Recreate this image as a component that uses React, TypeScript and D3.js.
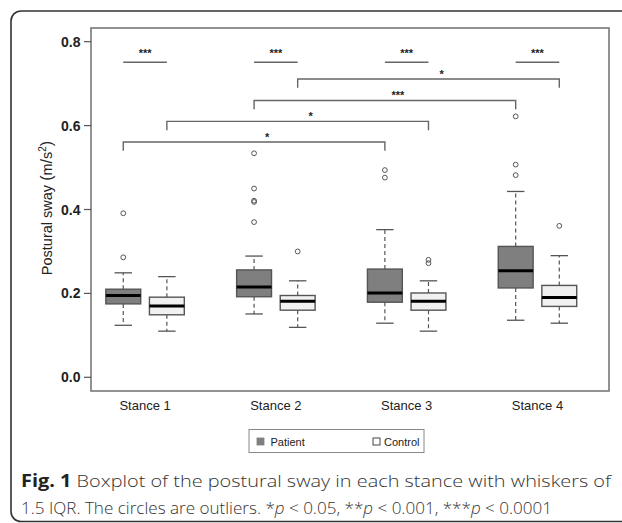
import React from "react";
import * as d3 from "d3";

// ---------- data ----------
const stances = ["Stance 1", "Stance 2", "Stance 3", "Stance 4"];
const groups = ["Patient", "Control"];
// [lower whisker, Q1, median, Q3, upper whisker]
const patientStats = [
  [0.124, 0.175, 0.195, 0.210, 0.249],
  [0.151, 0.192, 0.215, 0.256, 0.289],
  [0.129, 0.179, 0.201, 0.258, 0.352],
  [0.136, 0.213, 0.254, 0.312, 0.443],
];
const controlStats = [
  [0.110, 0.149, 0.170, 0.191, 0.240],
  [0.119, 0.160, 0.181, 0.195, 0.230],
  [0.110, 0.160, 0.181, 0.201, 0.230],
  [0.129, 0.169, 0.190, 0.219, 0.290],
];
const patientOutliers = [
  [0.391, 0.286],
  [0.534, 0.450, 0.421, 0.418, 0.370],
  [0.494, 0.476],
  [0.622, 0.507, 0.482],
];
const controlOutliers = [[], [0.300], [0.280, 0.272], [0.361]];
const yTicks = [0.0, 0.2, 0.4, 0.6, 0.8];
// within-stance comparisons (patient vs control)
const withinLabels = ["***", "***", "***", "***"];
const withinLevel = 0.751;
// between-stance comparisons
const betweenFrom = [1, 1, 0, 0];
const betweenTo = [3, 3, 2, 2];
const betweenGroup = [1, 0, 1, 0];
const betweenLevel = [0.711, 0.660, 0.610, 0.561];
const betweenLabels = ["*", "***", "*", "*"];

const caption1Bold = "Fig. 1";
const caption1 = " Boxplot of the postural sway in each stance with whiskers of";
const caption2Parts = ["1.5 IQR. The circles are outliers. *", "p", " < 0.05, **", "p", " < 0.001, ***", "p", " < 0.0001"];

// ---------- layout ----------
const W = 622, H = 523;
const plot = { left: 91, top: 28, right: 609, bottom: 391 };
const x = d3.scaleLinear().domain([0.26, 12.14]).range([plot.left, plot.right]);
const y = d3.scaleLinear().domain([0, 0.8]).range([377.3, 41.7]);
const posOf = (s: number, g: number) => 1 + 3 * s + g;
const boxW = x(0.8) - x(0);
const capW = boxW / 2;
const fills = ["#7f7f7f", "#f1f1f1"];
const edge = "#555";
const font = "'Liberation Sans', Arial, sans-serif";
const capFont = "'Open Sans', 'Noto Sans', sans-serif";

function Box({ s, g, stats, outs }: { s: number; g: number; stats: number[]; outs: number[] }) {
  const cx = x(posOf(s, g));
  const [lo, q1, med, q3, hi] = stats;
  return (
    <g>
      <line x1={cx} x2={cx} y1={y(q3)} y2={y(hi)} stroke={edge} strokeWidth={1.2} strokeDasharray="4,3" />
      <line x1={cx} x2={cx} y1={y(q1)} y2={y(lo)} stroke={edge} strokeWidth={1.2} strokeDasharray="4,3" />
      <line x1={cx - capW / 2} x2={cx + capW / 2} y1={y(hi)} y2={y(hi)} stroke={edge} strokeWidth={1.3} />
      <line x1={cx - capW / 2} x2={cx + capW / 2} y1={y(lo)} y2={y(lo)} stroke={edge} strokeWidth={1.3} />
      <rect x={cx - boxW / 2} y={y(q3)} width={boxW} height={y(q1) - y(q3)} fill={fills[g]} stroke={edge} strokeWidth={1.4} />
      <line x1={cx - boxW / 2} x2={cx + boxW / 2} y1={y(med)} y2={y(med)} stroke="#000" strokeWidth={3} />
      {outs.map((o, i) => (
        <circle key={i} cx={cx} cy={y(o)} r={2.4} fill="none" stroke={edge} strokeWidth={1} />
      ))}
    </g>
  );
}

export default function App() {
  const tickLen = y(0) - y(0.021);
  return (
    <svg width={W} height={H} style={{ position: "absolute", left: 0, top: 0, background: "#fff" }} fontFamily={font}>
      {/* outer rounded frame */}
      <rect x={11} y={11} width={700} height={510.5} rx={10} ry={10} fill="none" stroke="#333" strokeWidth={1.6} />

      {/* plot border */}
      <rect x={plot.left} y={plot.top} width={plot.right - plot.left} height={plot.bottom - plot.top} fill="none" stroke="#777" strokeWidth={1.6} />

      {/* y axis */}
      {yTicks.map((t) => (
        <g key={t}>
          <line x1={plot.left - 7} x2={plot.left} y1={y(t)} y2={y(t)} stroke="#555" strokeWidth={1.2} />
          <text x={80.5} y={y(t)} dy="0.36em" textAnchor="end" fontSize={14} fontWeight="bold" fill="#222">
            {d3.format(".1f")(t)}
          </text>
        </g>
      ))}
      <text transform={`translate(52,208) rotate(-90)`} textAnchor="middle" fontSize={14.5} fill="#222">
        Postural sway <tspan fontSize={16}>(</tspan>m<tspan fontSize={16}>/</tspan>s<tspan fontSize={10} dy={-6}>2</tspan><tspan dy={6} fontSize={16}>)</tspan>
      </text>

      {/* x labels */}
      {stances.map((s, i) => (
        <text key={s} x={x(posOf(i, 0.5))} y={410} textAnchor="middle" fontSize={13} fill="#222">
          {s}
        </text>
      ))}

      {/* boxes */}
      {stances.map((s, i) => (
        <g key={s}>
          <Box s={i} g={0} stats={patientStats[i]} outs={patientOutliers[i]} />
          <Box s={i} g={1} stats={controlStats[i]} outs={controlOutliers[i]} />
        </g>
      ))}

      {/* within-stance significance */}
      {stances.map((s, i) => {
        const x1 = x(posOf(i, 0)), x2 = x(posOf(i, 1));
        return (
          <g key={s}>
            <line x1={x1} x2={x2} y1={y(withinLevel)} y2={y(withinLevel)} stroke="#666" strokeWidth={1.4} />
            <text x={(x1 + x2) / 2} y={y(withinLevel) - 5} textAnchor="middle" fontSize={11} fontWeight="bold" fill="#222">
              {withinLabels[i]}
            </text>
          </g>
        );
      })}

      {/* between-stance significance */}
      {betweenLabels.map((lab, k) => {
        const p1 = posOf(betweenFrom[k], betweenGroup[k]);
        const p2 = posOf(betweenTo[k], betweenGroup[k]);
        const x1 = x(p1), x2 = x(p2), ly = y(betweenLevel[k]);
        return (
          <g key={k}>
            <path d={`M${x1},${ly + tickLen}V${ly}H${x2}V${ly + tickLen}`} fill="none" stroke="#666" strokeWidth={1.4} />
            <text x={x((p1 + p2) / 2 + 0.3)} y={ly - 1} textAnchor="middle" fontSize={11} fontWeight="bold" fill="#222">
              {lab}
            </text>
          </g>
        );
      })}

      {/* legend */}
      <rect x={249} y={429.5} width={175} height={23} fill="#fff" stroke="#888" strokeWidth={1} />
      <rect x={257} y={438} width={7} height={7} fill={fills[0]} stroke={fills[0]} strokeWidth={0.8} />
      <text x={270.5} y={446} fontSize={11} fill="#222">{groups[0]}</text>
      <rect x={373} y={438} width={7} height={7} fill="#fff" stroke="#333" strokeWidth={0.9} />
      <text x={384} y={446} fontSize={11} fill="#222">{groups[1]}</text>

      {/* caption */}
      <text x={21} y={487} fontSize={17} fill="#333" fontWeight={300} fontFamily={capFont} textLength={590} lengthAdjust="spacingAndGlyphs">
        <tspan fontWeight="bold" fill="#222">{caption1Bold}</tspan>
        <tspan>{caption1}</tspan>
      </text>
      <text x={21} y={513.5} fontSize={17} fill="#333" fontWeight={300} fontFamily={capFont} textLength={531} lengthAdjust="spacingAndGlyphs">
        {caption2Parts.map((p, i) => (
          <tspan key={i} fontStyle={p === "p" ? "italic" : "normal"}>{p}</tspan>
        ))}
      </text>
    </svg>
  );
}
